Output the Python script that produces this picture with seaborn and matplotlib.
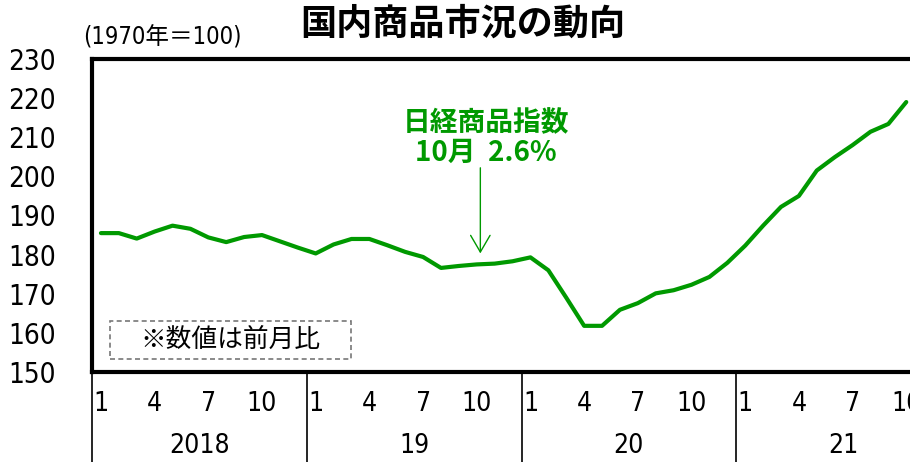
import matplotlib
matplotlib.use("Agg")
import matplotlib.pyplot as plt
from matplotlib import font_manager
from matplotlib.patches import Rectangle
import numpy as np
import pandas as pd
import seaborn as sns

# ---- data ----
years = ["2018", "19", "20", "21"]
month_ticks = [1, 4, 7, 10]
values_2018 = [185.5, 185.5, 184.1, 185.9, 187.4, 186.6, 184.4, 183.2, 184.5, 185.0, 183.4, 181.8]
values_2019 = [180.3, 182.6, 184.0, 184.0, 182.4, 180.7, 179.4, 176.6, 177.1, 177.5, 177.7, 178.3]
values_2020 = [179.3, 176.0, 169.0, 161.8, 161.8, 165.9, 167.6, 170.1, 170.9, 172.3, 174.3, 177.9]
values_2021 = [182.3, 187.4, 192.2, 195.0, 201.5, 204.9, 208.0, 211.4, 213.4, 219.0]
y_ticks = [150, 160, 170, 180, 190, 200, 210, 220, 230]
title = "国内商品市況の動向"
unit_label = "(1970年＝100)"
note = "※数値は前月比"
annot = "日経商品指数\n10月  2.6%"

values = values_2018 + values_2019 + values_2020 + values_2021
df = pd.DataFrame({"idx": np.arange(len(values)), "value": values})

sns.set_style("white")

CJK = "Noto Sans CJK JP"
plt.rcParams["font.family"] = ["DejaVu Sans", CJK]
plt.rcParams["font.stretch"] = "condensed"
plt.rcParams["text.color"] = "black"
plt.rcParams["xtick.color"] = "black"
plt.rcParams["ytick.color"] = "black"

num_font = font_manager.FontProperties(family=["DejaVu Sans", CJK], stretch="condensed")

GREEN = "#009900"

fig = plt.figure(figsize=(9.10, 4.62), dpi=100)
ax = fig.add_axes([92 / 910, 1 - 372 / 462, (951 - 92) / 910, (372 - 59) / 462])

sns.lineplot(data=df, x="idx", y="value", ax=ax, color=GREEN, linewidth=3.0)

ax.set_xlim(-0.5, 47.5)
ax.set_ylim(150, 230)
ax.set_xlabel("")
ax.set_ylabel("")

# y axis
ax.set_yticks(y_ticks)
ax.set_yticklabels([str(v) for v in y_ticks], fontproperties=num_font, fontsize=20)
ax.tick_params(axis="y", direction="in", length=4, width=1, color="#888888", pad=26,
               labelcolor="black")

# x axis: months
xt, xl = [], []
for yi in range(len(years)):
    for m in month_ticks:
        xt.append(yi * 12 + m - 1)
        xl.append(str(m))
ax.set_xticks(xt)
ax.set_xticklabels(xl, fontproperties=num_font, fontsize=19)
ax.tick_params(axis="x", length=0, pad=14, labelcolor="black")

for s in ["left", "top", "bottom"]:
    ax.spines[s].set_linewidth(3.0)
    ax.spines[s].set_color("black")
ax.spines["right"].set_visible(False)

# year separators and labels
trans = ax.get_xaxis_transform()
for yi, yl in enumerate(years):
    x0 = yi * 12 - 0.5
    ax.plot([x0, x0], [0, -0.35], transform=trans, color="black", lw=1.2, clip_on=False)
    ax.text(yi * 12 + 5.5, -0.235, yl, transform=trans, ha="center", va="center",
            fontproperties=num_font, fontsize=19, color="black")

# note box
ax.add_patch(Rectangle((0.5, 153.3), 13.5, 9.7, fill=False, edgecolor="#777777",
                       linestyle=(0, (3, 2)), linewidth=1.2))
ax.text(7.25, 158.1, note, ha="center", va="center", fontsize=18.5, family=[CJK],
        color="black")

# annotation
ax.annotate("", xy=(21.2, 179.6), xytext=(21.2, 202.9),
            arrowprops=dict(arrowstyle="->,head_length=0.6,head_width=0.35",
                            color=GREEN, lw=1.0, mutation_scale=20))
ax.text(21.5, 209.8, annot, ha="center", va="center", color=GREEN, fontsize=20,
        fontweight="bold", family=[CJK], linespacing=1.1)

# title and unit
fig.text(463 / 910, 1 - 24 / 462, title, ha="center", va="center", fontsize=26,
         fontweight="bold", family=[CJK], color="black")
fig.text(162 / 910, 1 - 37 / 462, unit_label, ha="center", va="center", fontsize=17,
         fontproperties=num_font, color="black")

fig.savefig("out.png", dpi=100)
